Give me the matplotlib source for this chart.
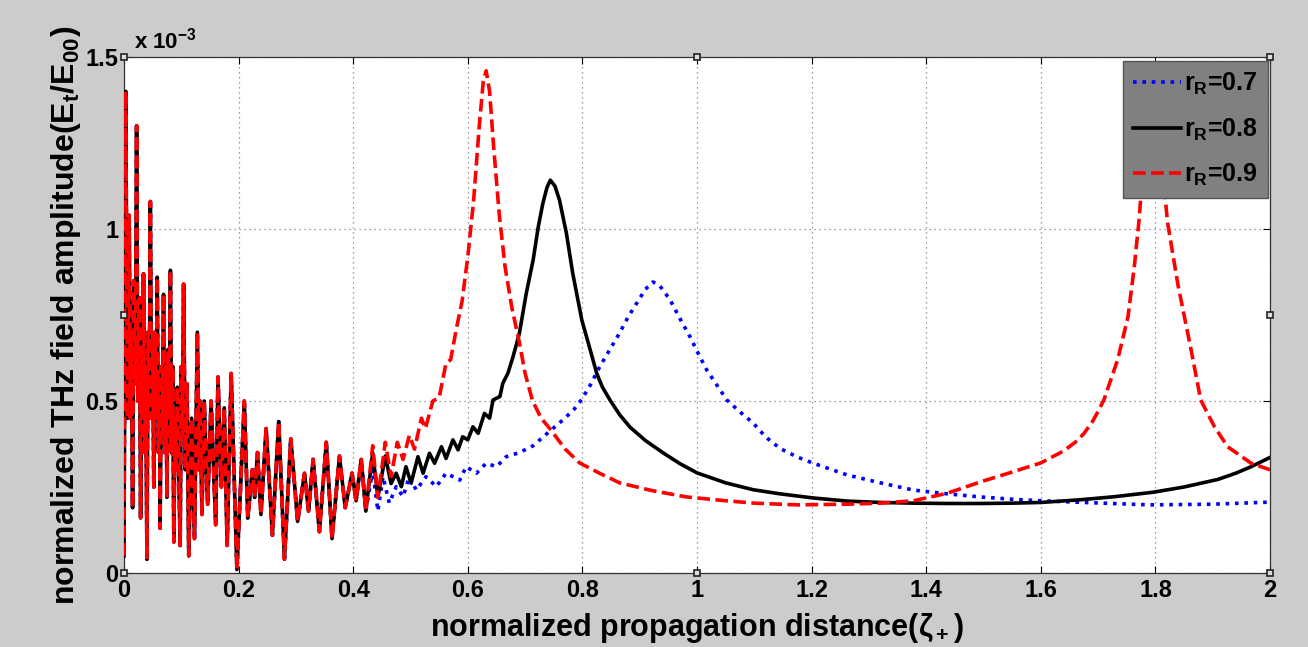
import matplotlib
matplotlib.use("Agg")
import matplotlib.pyplot as plt

# ---------------- data (y in units of 1e-3) ----------------
# shared oscillating part (all three curves overlap here)
osc_x = [0.000, 0.003, 0.006, 0.009, 0.011, 0.013, 0.015, 0.017, 0.020, 0.022,
         0.024, 0.027, 0.029, 0.031, 0.033, 0.034, 0.036, 0.038, 0.040, 0.042,
         0.044, 0.046, 0.048, 0.050, 0.052, 0.054, 0.056, 0.058, 0.060, 0.062,
         0.063, 0.065, 0.067, 0.069, 0.071, 0.073, 0.075, 0.077, 0.079, 0.081,
         0.083, 0.085, 0.087, 0.089, 0.091, 0.093, 0.098, 0.100, 0.102, 0.104,
         0.107, 0.110, 0.113, 0.118, 0.123, 0.128, 0.131, 0.133, 0.136, 0.140,
         0.146, 0.152, 0.160, 0.164, 0.170, 0.175, 0.180, 0.187, 0.197, 0.210,
         0.216, 0.224, 0.228, 0.233, 0.239, 0.248, 0.259, 0.270, 0.280, 0.291,
         0.303, 0.315, 0.322, 0.330, 0.341, 0.353, 0.363, 0.376, 0.386, 0.398,
         0.405, 0.414, 0.422]
osc_y = [0.05, 1.40, 0.45, 1.04, 0.45, 0.70, 0.19, 0.85, 0.55, 1.30,
         0.50, 0.80, 0.16, 0.65, 0.45, 0.87, 0.35, 0.60, 0.04, 0.70,
         0.45, 1.08, 0.45, 0.70, 0.25, 0.70, 0.45, 0.86, 0.35, 0.55,
         0.13, 0.60, 0.40, 0.81, 0.35, 0.60, 0.22, 0.65, 0.45, 0.88,
         0.35, 0.60, 0.09, 0.45, 0.30, 0.54, 0.08, 0.60, 0.40, 0.84,
         0.30, 0.55, 0.05, 0.45, 0.10, 0.70, 0.30, 0.50, 0.17, 0.50,
         0.20, 0.50, 0.14, 0.57, 0.25, 0.48, 0.08, 0.58, 0.01, 0.50,
         0.16, 0.30, 0.22, 0.35, 0.17, 0.42, 0.11, 0.44, 0.04, 0.39,
         0.15, 0.29, 0.18, 0.33, 0.12, 0.38, 0.10, 0.34, 0.19, 0.29,
         0.21, 0.33, 0.18]

# r_R = 0.7 (blue, dotted) after the shared part
blue_x = [0.434, 0.443, 0.452, 0.463, 0.475, 0.487, 0.498, 0.510, 0.527, 0.545,
          0.562, 0.586, 0.597, 0.615, 0.632, 0.650, 0.667, 0.690, 0.714, 0.738,
          0.766, 0.785, 0.799, 0.815, 0.830, 0.848, 0.865, 0.880, 0.895, 0.910,
          0.923, 0.935, 0.953, 0.970, 0.988, 1.000, 1.017, 1.035, 1.052, 1.075,
          1.098, 1.120, 1.145, 1.175, 1.203, 1.262, 1.320, 1.378, 1.437, 1.495,
          1.553, 1.600, 1.675, 1.790, 1.900, 2.000]
blue_y = [0.30, 0.18, 0.28, 0.203, 0.251, 0.222, 0.280, 0.241, 0.280, 0.251,
          0.290, 0.270, 0.309, 0.290, 0.319, 0.309, 0.338, 0.350, 0.370, 0.405,
          0.445, 0.475, 0.505, 0.550, 0.599, 0.650, 0.698, 0.745, 0.785, 0.825,
          0.846, 0.835, 0.794, 0.740, 0.686, 0.645, 0.590, 0.545, 0.503, 0.468,
          0.436, 0.395, 0.362, 0.337, 0.319, 0.285, 0.262, 0.241, 0.230, 0.221,
          0.214, 0.210, 0.205, 0.198, 0.200, 0.206]

# r_R = 0.8 (black, solid) after the shared part
black_x = [0.434, 0.443, 0.456, 0.466, 0.475, 0.484, 0.492, 0.501, 0.513, 0.522,
           0.533, 0.542, 0.554, 0.562, 0.574, 0.583, 0.591, 0.600, 0.609, 0.618,
           0.629, 0.638, 0.644, 0.656, 0.661, 0.670, 0.679, 0.690, 0.702, 0.714,
           0.723, 0.731, 0.738, 0.744, 0.752, 0.760, 0.772, 0.783, 0.799, 0.810,
           0.825, 0.835, 0.848, 0.865, 0.883, 0.910, 0.941, 0.970, 1.000, 1.050,
           1.098, 1.145, 1.203, 1.262, 1.320, 1.378, 1.440, 1.495, 1.550, 1.600,
           1.670, 1.730, 1.797, 1.850, 1.909, 1.940, 1.967, 2.000]
black_y = [0.35, 0.22, 0.34, 0.26, 0.290, 0.251, 0.309, 0.261, 0.338, 0.290,
           0.348, 0.319, 0.367, 0.333, 0.387, 0.358, 0.396, 0.387, 0.425, 0.406,
           0.464, 0.450, 0.503, 0.513, 0.551, 0.581, 0.629, 0.697, 0.813, 0.910,
           1.007, 1.075, 1.120, 1.142, 1.125, 1.084, 0.988, 0.872, 0.735, 0.670,
           0.580, 0.540, 0.503, 0.460, 0.424, 0.385, 0.349, 0.318, 0.291, 0.262,
           0.242, 0.230, 0.218, 0.209, 0.205, 0.203, 0.202, 0.202, 0.203, 0.205,
           0.213, 0.222, 0.235, 0.250, 0.272, 0.290, 0.309, 0.336]

# r_R = 0.9 (red, dashed) after the shared part
red_x = [0.434, 0.443, 0.456, 0.466, 0.477, 0.487, 0.498, 0.507, 0.519, 0.526,
         0.539, 0.550, 0.562, 0.570, 0.580, 0.590, 0.600, 0.610, 0.620, 0.627,
         0.632, 0.638, 0.645, 0.655, 0.665, 0.677, 0.690, 0.700, 0.713, 0.728,
         0.743, 0.770, 0.795, 0.830, 0.865, 0.920, 0.982, 1.050, 1.100, 1.175,
         1.262, 1.320, 1.378, 1.437, 1.495, 1.553, 1.600, 1.640, 1.660, 1.675,
         1.690, 1.700, 1.710, 1.734, 1.752, 1.763, 1.771, 1.782, 1.795, 1.808,
         1.821, 1.839, 1.862, 1.879, 1.903, 1.926, 1.967, 2.000]
red_y = [0.37, 0.22, 0.38, 0.28, 0.38, 0.33, 0.40, 0.36, 0.45, 0.42,
         0.50, 0.51, 0.61, 0.62, 0.71, 0.79, 0.92, 1.08, 1.30, 1.43,
         1.46, 1.40, 1.24, 1.04, 0.89, 0.77, 0.67, 0.58, 0.50, 0.45,
         0.42, 0.36, 0.32, 0.29, 0.262, 0.240, 0.221, 0.210, 0.203, 0.198,
         0.200, 0.203, 0.210, 0.232, 0.265, 0.295, 0.320, 0.355, 0.380, 0.405,
         0.440, 0.470, 0.503, 0.620, 0.744, 0.890, 1.020, 1.250, 1.450, 1.250,
         1.020, 0.840, 0.650, 0.503, 0.425, 0.367, 0.319, 0.300]

labels = ["r$_\\mathregular{R}$=0.7", "r$_\\mathregular{R}$=0.8", "r$_\\mathregular{R}$=0.9"]
xticks = [0, 0.2, 0.4, 0.6, 0.8, 1.0, 1.2, 1.4, 1.6, 1.8, 2.0]
xticklabels = ["0", "0.2", "0.4", "0.6", "0.8", "1", "1.2", "1.4", "1.6", "1.8", "2"]
yticks = [0, 0.5, 1.0, 1.5]
yticklabels = ["0", "0.5", "1", "1.5"]

# ---------------- plot ----------------
plt.rcParams['font.family'] = ['Liberation Sans', 'DejaVu Sans']
plt.rcParams['mathtext.fontset'] = 'custom'
plt.rcParams['mathtext.rm'] = 'Liberation Sans:bold'
plt.rcParams['mathtext.it'] = 'Liberation Sans:bold'
plt.rcParams['mathtext.bf'] = 'Liberation Sans:bold'

fig = plt.figure(figsize=(13.08, 6.47), dpi=100)
fig.patch.set_facecolor('#cccccc')
ax = fig.add_axes([0.0948, 0.1144, 0.8762, 0.7975])
ax.set_facecolor('white')

lw = 2.6
ax.plot(osc_x + blue_x, osc_y + blue_y, color='#0000ff', ls=(0, (1, 1.6)), lw=lw, label=labels[0], zorder=3)
ax.plot(osc_x + black_x, osc_y + black_y, color='black', ls='-', lw=lw, label=labels[1], zorder=4)
ax.plot(osc_x + red_x, osc_y + red_y, color='#ff0000', ls=(0, (3.5, 1.5)), lw=lw, label=labels[2], zorder=5)

ax.set_xlim(0, 2)
ax.set_ylim(0, 1.5)
ax.set_xticks(xticks)
ax.set_xticklabels(xticklabels)
ax.set_yticks(yticks)
ax.set_yticklabels(yticklabels)
ax.grid(True, ls=(0, (1, 3)), color='#808080', lw=0.9)
ax.tick_params(direction='in', top=True, right=True, length=5, width=0.8,
               labelsize=17, pad=4)
for lab in ax.get_xticklabels() + ax.get_yticklabels():
    lab.set_fontweight('bold')
for s in ax.spines.values():
    s.set_linewidth(0.9)
    s.set_color('#333333')

ax.set_xlabel("normalized propagation distance($\\zeta_+$)", fontsize=22,
              fontweight='bold', labelpad=7)
ax.set_ylabel("normalized THz field amplitude(E$_\\mathregular{t}$/E$_\\mathregular{00}$)",
              fontsize=23, fontweight='bold', labelpad=2)

ax.text(0.009, 1.006, "x 10$^{-3}$", transform=ax.transAxes, fontsize=16,
        fontweight='bold', va='bottom', ha='left')

leg = ax.legend(loc='upper right', bbox_to_anchor=(0.9985, 0.993), frameon=True,
                fancybox=False, facecolor='#808080', edgecolor='#555555',
                framealpha=1.0, fontsize=18, handlelength=1.9, handletextpad=0.15,
                labelspacing=0.78, borderpad=0.4, borderaxespad=0.0)
leg.set_zorder(10)
for t in leg.get_texts():
    t.set_fontweight('bold')

# selection handles drawn by the original figure editor
hx = [0, 0.5, 1, 1, 1, 0.5, 0, 0]
hy = [1, 1, 1, 0.5, 0, 0, 0, 0.5]
ax.plot(hx, hy, ls='none', marker='s', ms=5, mfc='#dddddd', mec='#222222',
        mew=1.2, transform=ax.transAxes, clip_on=False, zorder=11)

fig.savefig("out.png", dpi=100, facecolor=fig.get_facecolor())
